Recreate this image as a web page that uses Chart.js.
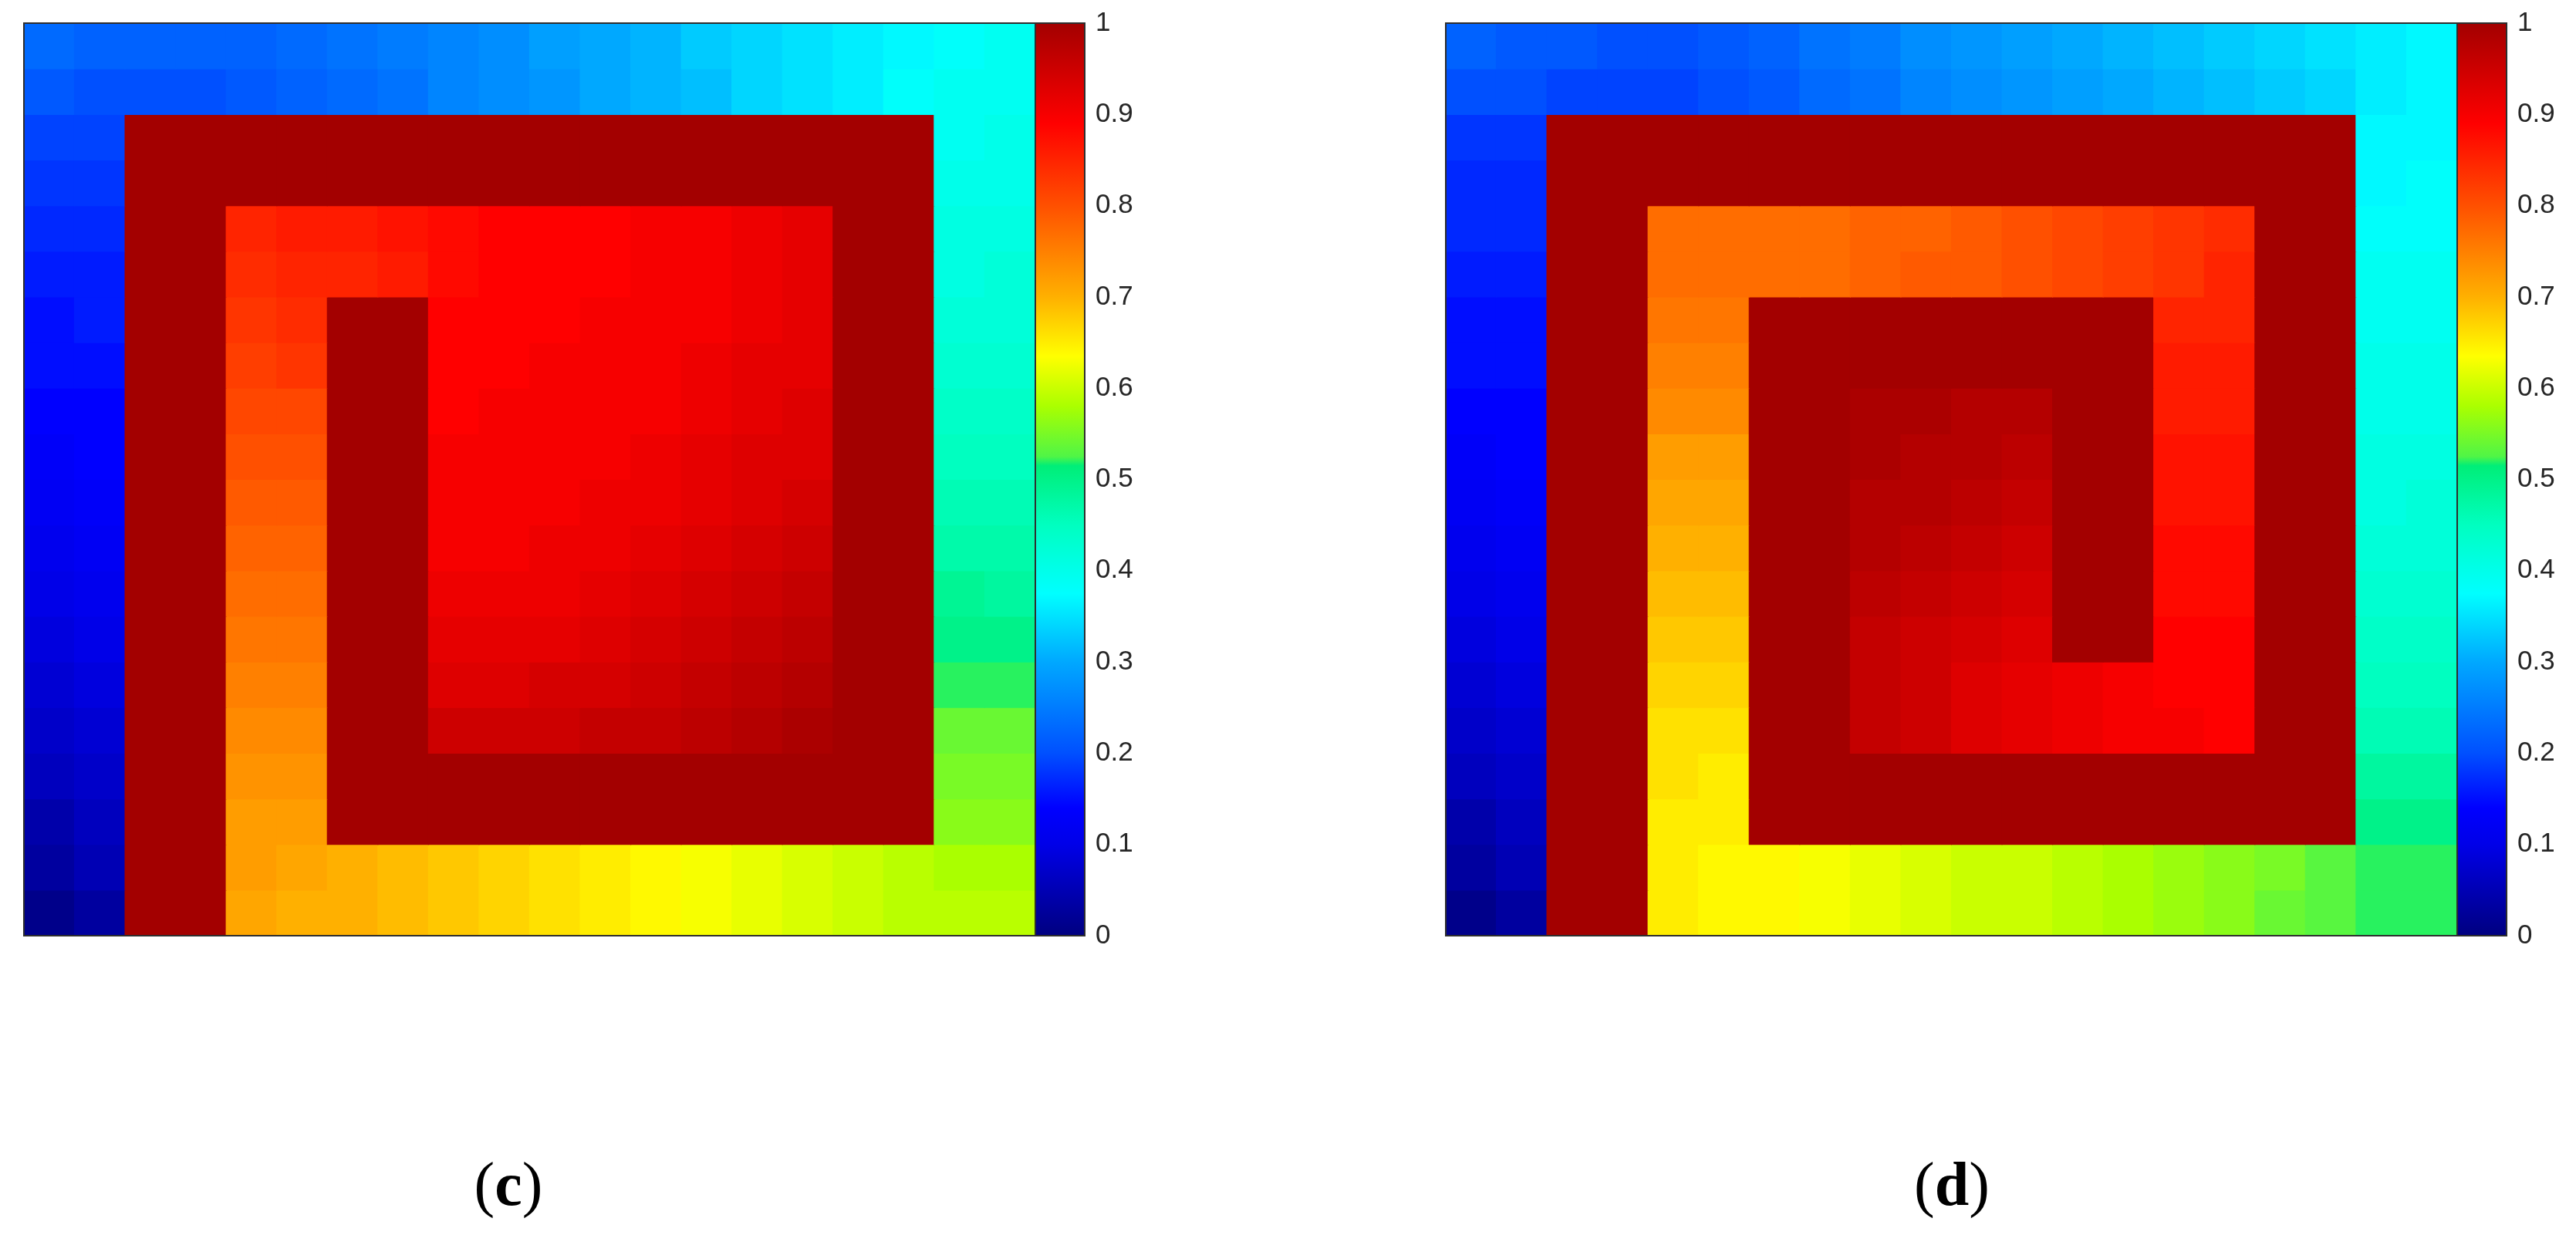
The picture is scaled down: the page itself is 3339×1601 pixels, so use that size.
<!DOCTYPE html>
<html><head><meta charset="utf-8">
<script src="https://cdn.jsdelivr.net/npm/chart.js@4.4.0/dist/chart.umd.min.js"></script>
<style>
html,body{margin:0;padding:0;background:#fff;}
body{width:3339px;height:1601px;position:relative;overflow:hidden;}
.box{position:absolute;}
.lbl{position:absolute;font-family:"Liberation Serif","Times New Roman",serif;font-size:80px;line-height:80px;color:#000;text-align:center;width:200px;white-space:nowrap;}
.lbl b{font-weight:bold;}
</style></head><body>
<div class="box" style="left:21px;top:20px;width:1331px;height:1203px"><canvas id="mapC"></canvas></div>
<div class="box" style="left:1332px;top:0px;width:200px;height:1260px"><canvas id="barC"></canvas></div>
<div class="box" style="left:1864px;top:20px;width:1331px;height:1203px"><canvas id="mapD"></canvas></div>
<div class="box" style="left:3175px;top:0px;width:200px;height:1260px"><canvas id="barD"></canvas></div>
<div class="lbl" style="left:559px;top:1495px">(<b>c</b>)</div>
<div class="lbl" style="left:2430px;top:1495px">(<b>d</b>)</div>
<script>
// ---- data: 20 x 20 half-unit cells, values in percent (100 = wall) ----
const W = 100;
const colIdx = [0,1,2,3,4,5,6,7,8,9,10,11,12,13,14,15,16,17,18,19];
const rowIdx = [0,1,2,3,4,5,6,7,8,9,10,11,12,13,14,15,16,17,18,19];
const tickLabels = ['0','0.1','0.2','0.3','0.4','0.5','0.6','0.7','0.8','0.9','1'];

const gridC = [
 [23,22,22,22,22,23,24,25,26,27,29,30,31,33,34,35,36,37,38,39],
 [21,20,20,20,21,22,23,24,26,27,28,30,31,32,34,35,36,38,39,39],
 [19,19,W,W,W,W,W,W,W,W,W,W,W,W,W,W,W,W,39,40],
 [18,18,W,W,W,W,W,W,W,W,W,W,W,W,W,W,W,W,40,40],
 [17,17,W,W,85,86,86,87,88,89,89,89,90,90,91,92,W,W,41,41],
 [16,16,W,W,84,85,85,86,88,89,89,89,90,90,91,92,W,W,41,42],
 [15,16,W,W,83,84,W,W,89,89,89,90,90,90,91,92,W,W,42,42],
 [15,15,W,W,82,83,W,W,89,89,90,90,90,91,92,92,W,W,43,43],
 [14,14,W,W,81,81,W,W,89,90,90,90,90,91,92,93,W,W,44,44],
 [13,14,W,W,80,80,W,W,90,90,90,90,91,92,93,93,W,W,45,45],
 [12,13,W,W,79,79,W,W,90,90,90,91,91,92,93,94,W,W,46,46],
 [11,12,W,W,78,78,W,W,90,90,91,91,92,93,94,95,W,W,47,47],
 [10,11,W,W,77,77,W,W,91,91,91,92,93,94,95,96,W,W,49,48],
 [9,10,W,W,76,76,W,W,92,92,92,93,94,95,96,97,W,W,50,50],
 [8,9,W,W,75,75,W,W,93,93,94,94,95,96,97,98,W,W,52,52],
 [7,8,W,W,74,74,W,W,95,95,95,96,96,97,98,99,W,W,54,54],
 [6,7,W,W,73,73,W,W,W,W,W,W,W,W,W,W,W,W,55,55],
 [4,6,W,W,72,72,W,W,W,W,W,W,W,W,W,W,W,W,56,56],
 [3,5,W,W,72,71,70,69,68,67,66,65,64,63,62,61,60,59,58,58],
 [1,3,W,W,71,70,70,69,68,67,66,65,64,63,62,61,60,59,59,59]
];

const gridD = [
 [22,21,21,20,20,21,22,24,25,27,28,29,30,31,32,33,34,35,36,37],
 [20,20,19,19,19,20,21,23,24,26,27,28,29,30,31,32,33,34,36,37],
 [18,18,W,W,W,W,W,W,W,W,W,W,W,W,W,W,W,W,37,37],
 [17,17,W,W,W,W,W,W,W,W,W,W,W,W,W,W,W,W,37,38],
 [17,17,W,W,77,77,77,77,78,78,79,80,81,82,83,84,W,W,38,38],
 [16,16,W,W,77,77,77,77,78,79,79,80,81,82,83,85,W,W,39,39],
 [15,15,W,W,76,76,W,W,W,W,W,W,W,W,85,85,W,W,39,39],
 [15,15,W,W,75,75,W,W,W,W,W,W,W,W,86,86,W,W,40,40],
 [14,14,W,W,74,74,W,W,99,99,98,98,W,W,86,86,W,W,40,40],
 [13,14,W,W,72,72,W,W,99,98,98,97,W,W,87,87,W,W,41,41],
 [12,13,W,W,71,71,W,W,98,98,97,96,W,W,87,87,W,W,41,42],
 [11,12,W,W,70,70,W,W,98,97,96,95,W,W,88,88,W,W,42,42],
 [10,11,W,W,69,69,W,W,97,96,95,94,W,W,88,88,W,W,43,43],
 [9,10,W,W,68,68,W,W,96,95,94,93,W,W,89,89,W,W,44,44],
 [8,9,W,W,67,67,W,W,96,95,93,92,91,90,89,89,W,W,45,45],
 [7,8,W,W,66,66,W,W,96,95,93,92,91,90,90,89,W,W,46,46],
 [6,7,W,W,66,65,W,W,W,W,W,W,W,W,W,W,W,W,48,48],
 [4,6,W,W,65,65,W,W,W,W,W,W,W,W,W,W,W,W,50,50],
 [3,5,W,W,65,64,64,63,62,61,60,60,59,58,57,56,55,53,52,52],
 [1,3,W,W,65,64,64,63,62,61,60,60,59,58,57,56,54,53,52,52]
];

// ---- colour map (styling) ----
const cmapStops = [
 [0.00,0,0,128],[0.10,0,0,232],[0.14,0,0,255],[0.20,0,80,255],[0.30,0,168,255],
 [0.375,0,255,255],[0.45,0,255,192],[0.515,0,238,120],[0.525,80,245,70],[0.58,170,255,0],
 [0.635,255,255,0],[0.70,255,176,0],[0.80,255,80,0],[0.89,255,0,0],[1.00,163,0,0]
];
function colorOf(v){
  if (v <= cmapStops[0][0]) { const s=cmapStops[0]; return `rgb(${s[1]},${s[2]},${s[3]})`; }
  for (let k=1;k<cmapStops.length;k++){
    const a=cmapStops[k-1], b=cmapStops[k];
    if (v <= b[0]) {
      const t=(v-a[0])/(b[0]-a[0]);
      const r=Math.round(a[1]+(b[1]-a[1])*t), g=Math.round(a[2]+(b[2]-a[2])*t), bl=Math.round(a[3]+(b[3]-a[3])*t);
      return `rgb(${r},${g},${bl})`;
    }
  }
  const s=cmapStops[cmapStops.length-1]; return `rgb(${s[1]},${s[2]},${s[3]})`;
}

const framePlugin = {
  id:'frame',
  afterDraw(chart){
    const {ctx, chartArea:a} = chart;
    ctx.save();
    ctx.strokeStyle = '#2e2e2e';
    ctx.lineWidth = 2;
    ctx.strokeRect(a.left, a.top, a.right-a.left, a.bottom-a.top);
    ctx.restore();
  }
};

function heatConfig(grid){
  const datasets = rowIdx.map(j => ({
    data: colIdx.map(() => [j, j+1]),
    backgroundColor: grid[j].map(v => colorOf(v/100)),
    grouped:false, categoryPercentage:1, barPercentage:1,
    borderWidth:0, borderSkipped:false, inflateAmount:0.6
  }));
  return {
    type:'bar',
    data:{labels:colIdx, datasets},
    options:{
      responsive:true, maintainAspectRatio:false, animation:false, events:[],
      layout:{padding:10},
      plugins:{legend:{display:false}, tooltip:{enabled:false}},
      scales:{
        x:{display:false},
        y:{display:false, min:0, max:20, reverse:true}
      }
    },
    plugins:[framePlugin]
  };
}

function barConfig(){
  return {
    type:'bar',
    data:{labels:['scale'], datasets:[{
      data:[[0,1]],
      backgroundColor:(ctx)=>{
        const ca = ctx.chart.chartArea;
        if (!ca) return '#800000';
        const g = ctx.chart.ctx.createLinearGradient(0, ca.bottom, 0, ca.top);
        cmapStops.forEach(s => g.addColorStop(s[0], `rgb(${s[1]},${s[2]},${s[3]})`));
        return g;
      },
      categoryPercentage:1, barPercentage:1, borderWidth:0
    }]},
    options:{
      responsive:true, maintainAspectRatio:false, animation:false, events:[],
      layout:{padding:{left:10, top:30, bottom:47, right:0}},
      plugins:{legend:{display:false}, tooltip:{enabled:false}},
      scales:{
        x:{display:false},
        y:{
          position:'right', min:0, max:1, z:1,
          afterFit:(s)=>{ s.width = 126; s.paddingTop = 0; s.paddingBottom = 0; },
          ticks:{stepSize:0.1, padding:26, crossAlign:'near', color:'#262626',
                 font:{family:'"Liberation Sans", Arial, sans-serif', size:35},
                 callback:(v,i)=>tickLabels[i]},
          grid:{drawOnChartArea:false, drawTicks:true, tickLength:-12, color:'#262626',
                tickColor:'#262626', tickWidth:2, lineWidth:2},
          border:{display:false}
        }
      }
    },
    plugins:[framePlugin]
  };
}

new Chart(document.getElementById('mapC'), heatConfig(gridC));
new Chart(document.getElementById('barC'), barConfig());
new Chart(document.getElementById('mapD'), heatConfig(gridD));
new Chart(document.getElementById('barD'), barConfig());
</script>
</body></html>
